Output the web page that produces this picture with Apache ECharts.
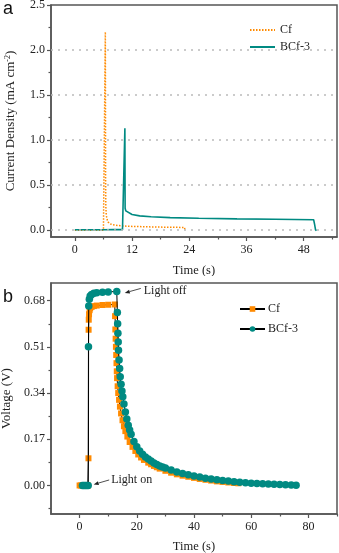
<!DOCTYPE html>
<html>
<head>
<meta charset="utf-8">
<script src="https://cdn.jsdelivr.net/npm/echarts@6/dist/echarts.min.js"></script>
<style>
html,body{margin:0;padding:0;background:#fff;}
#a{position:absolute;left:0;top:0;width:339px;height:276px;}
#b{position:absolute;left:0;top:276px;width:339px;height:277px;}
</style>
</head>
<body>
<div id="a"></div>
<div id="b"></div>
<script>
// ---------- Panel a: current density ----------
const cfTimeA = [0, 1, 2, 3, 4, 5, 6, 6.35, 6.4, 6.45, 6.5, 6.6, 6.8, 7.0, 7.5, 8, 9, 10, 12, 14, 16, 18, 20, 22, 23, 23.1, 23.15];
const cfCurrent = [-0.005, -0.005, -0.006, -0.005, -0.006, -0.005, -0.005, -0.003, 2.2, 0.6, 0.26, 0.16, 0.11, 0.085, 0.065, 0.056, 0.048, 0.043, 0.038, 0.035, 0.032, 0.030, 0.028, 0.027, 0.026, 0.0, -0.01];
const bcfTimeA = [0, 2, 4, 6, 8, 10, 10.4, 10.5, 10.55, 10.7, 11, 12, 13.6, 16, 20, 26, 34, 42, 50.1, 50.3, 50.5, 50.7];
const bcfCurrent = [0, 0, 0.001, 0.001, 0.002, 0.002, 0.002, 1.13, 0.24, 0.21, 0.19, 0.17, 0.155, 0.145, 0.135, 0.128, 0.122, 0.117, 0.112, 0.06, 0.0, -0.01];
const timeTicksA = [0, 12, 24, 36, 48];
const timeMinorA = [6, 18, 30, 42, 54];
const curTicks = [0, 0.5, 1.0, 1.5, 2.0, 2.5];
const curMinor = [0.25, 0.75, 1.25, 1.75, 2.25];
const curGrid = [0, 0.5, 1.0, 1.5, 2.0];

// ---------- Panel b: voltage ----------
const cfTimeB = [0, 0.5, 1, 1.5, 2, 2.5, 2.9, 3.1, 3.15, 3.2, 3.3, 3.5, 3.7, 4.2, 5, 6, 8, 10, 12.3,
  12.4, 12.5, 12.6, 12.7, 12.8, 12.9, 13.0, 13.1, 13.3, 13.5, 13.8, 14.1, 14.5, 15.0, 15.5, 16.0, 16.7, 17.5, 18.5, 19.5, 20.5, 21.5, 22.5, 24, 25, 26, 27, 28, 30, 32, 34, 36, 38, 40, 42, 44, 46, 48, 50, 52, 54, 55.5];
const cfVoltage = [0, 0, 0, 0, 0, 0, 0, 0.10, 0.573, 0.61, 0.63, 0.645, 0.652, 0.657, 0.66, 0.662, 0.664, 0.665, 0.666,
  0.623, 0.574, 0.54, 0.51, 0.48, 0.45, 0.42, 0.395, 0.365, 0.34, 0.315, 0.29, 0.265, 0.24, 0.218, 0.20, 0.18, 0.16, 0.142, 0.127, 0.114, 0.103, 0.094, 0.084, 0.078, 0.072, 0.067, 0.062, 0.054, 0.047, 0.041, 0.036, 0.032, 0.028, 0.024, 0.021, 0.018, 0.015, 0.013, 0.011, 0.009, 0.008];
const bcfTimeB = [1, 1.5, 2, 2.5, 3.0, 3.1, 3.2, 3.4, 3.7, 4.2, 5, 6, 8, 10, 13.0,
  13.2, 13.3, 13.4, 13.5, 13.6, 13.8, 14.0, 14.2, 14.5, 14.8, 15.1, 15.5, 16.0, 16.5, 17.0, 17.5, 18, 19, 20, 21, 22, 23, 24, 25, 26, 27, 28, 29, 30, 32, 34, 36, 38, 40, 42, 44, 46, 48, 50, 52, 54, 56, 58, 60, 62, 64, 66, 68, 70, 72, 74, 75.7];
const bcfVoltage = [0, 0, 0, 0, 0, 0.51, 0.66, 0.685, 0.697, 0.703, 0.707, 0.709, 0.711, 0.712, 0.714,
  0.636, 0.595, 0.560, 0.528, 0.498, 0.462, 0.430, 0.400, 0.372, 0.348, 0.326, 0.300, 0.270, 0.245, 0.222, 0.204, 0.188, 0.162, 0.142, 0.127, 0.115, 0.105, 0.097, 0.090, 0.083, 0.077, 0.072, 0.068, 0.064, 0.057, 0.050, 0.044, 0.039, 0.035, 0.031, 0.027, 0.024, 0.021, 0.018, 0.016, 0.014, 0.012, 0.010, 0.0085, 0.0072, 0.006, 0.0052, 0.0045, 0.004, 0.003, 0.002, 0.001];
const timeTicksB = [0, 20, 40, 60, 80];
const timeMinorB = [10, 30, 50, 70, 90];
const voltTicks = [0, 0.17, 0.34, 0.51, 0.68];
const voltMinor = [-0.085, 0.085, 0.255, 0.425, 0.595];
const lightOffAt = [13.0, 0.714];
const lightOnAt = [3.0, 0.0];

const ORANGE = '#ff8a00';
const TEAL = '#008a82';
const AX = '#555';
const SERIF = 'Liberation Serif';
const zip = (xs, ys) => xs.map((x, i) => [x, ys[i]]);

function majorX(min, max, ticks, gap) {
  return {
    type: 'value', min: min, max: max, position: 'bottom',
    axisLine: { show: true, onZero: false, lineStyle: { color: AX, width: 1.5 } },
    axisTick: { show: true, length: 4, customValues: ticks, lineStyle: { color: AX, width: 1.2 } },
    axisLabel: { customValues: ticks, margin: 7, fontFamily: SERIF, fontSize: 12, color: '#222' },
    splitLine: { show: false },
    name: 'Time (s)', nameLocation: 'middle', nameGap: gap,
    nameTextStyle: { fontFamily: SERIF, fontSize: 12.5, color: '#222' }
  };
}
function minorX(min, max, ticks) {
  return {
    type: 'value', min: min, max: max, position: 'bottom',
    axisLine: { show: false, onZero: false },
    axisTick: { show: true, length: 2.5, customValues: ticks, lineStyle: { color: AX, width: 1.2 } },
    axisLabel: { show: false }, splitLine: { show: false }
  };
}
function majorY(min, max, ticks, dec, name, gap) {
  return {
    type: 'value', min: min, max: max, position: 'left',
    axisLine: { show: true, onZero: false, lineStyle: { color: AX, width: 1.5 } },
    axisTick: { show: true, length: 4, customValues: ticks, lineStyle: { color: AX, width: 1.2 } },
    axisLabel: { customValues: ticks, margin: 6, fontFamily: SERIF, fontSize: 12, color: '#222',
      formatter: v => Number(v).toFixed(dec) },
    splitLine: { show: false },
    name: name, nameLocation: 'middle', nameGap: gap,
    nameTextStyle: { fontFamily: SERIF, fontSize: 13, color: '#222',
      rich: { t: { fontFamily: SERIF, fontSize: 13, color: '#222' },
              s: { fontFamily: SERIF, fontSize: 8, color: '#222', verticalAlign: 'top', padding: [0, 0, 6, 0] } } }
  };
}
function minorY(min, max, ticks) {
  return {
    type: 'value', min: min, max: max, position: 'left',
    axisLine: { show: false, onZero: false },
    axisTick: { show: true, length: 2.5, customValues: ticks, lineStyle: { color: AX, width: 1.2 } },
    axisLabel: { show: false }, splitLine: { show: false }
  };
}

// ----- chart a -----
const ca = echarts.init(document.getElementById('a'), null, { renderer: 'canvas' });
ca.setOption({
  animation: false,
  grid: { left: 51, top: 5, width: 286, height: 232, show: true, borderColor: AX, borderWidth: 1.5,
    backgroundColor: 'transparent', containLabel: false, outerBoundsMode: 'none' },
  graphic: [{ type: 'text', left: 3, top: 0, style: { text: 'a', fontFamily: 'Liberation Sans', fontSize: 18, fill: '#111' } }],
  legend: {
    orient: 'vertical', left: 249, top: 24, padding: 0, itemWidth: 25, itemHeight: 10, itemGap: 5,
    itemStyle: { opacity: 0 },
    textStyle: { fontFamily: SERIF, fontSize: 12, color: '#222' },
    data: ['Cf', 'BCf-3']
  },
  xAxis: [majorX(-5, 55, timeTicksA, 27), minorX(-5, 55, timeMinorA)],
  yAxis: [majorY(-0.08, 2.5, curTicks, 1, '{t|Current Density (mA cm}{s|-2}{t|)}', 33), minorY(-0.08, 2.5, curMinor)],
  series: [
    {
      name: 'Cf', type: 'line', data: zip(cfTimeA, cfCurrent), showSymbol: false, symbol: 'none',
      lineStyle: { color: ORANGE, width: 1.5, type: [1.5, 1.5] }, itemStyle: { color: ORANGE },
      markLine: {
        silent: true, symbol: 'none', label: { show: false },
        lineStyle: { color: '#bbb', width: 1.5, type: [2, 5] },
        data: curGrid.map(v => ({ yAxis: v }))
      },
      z: 3
    },
    {
      name: 'BCf-3', type: 'line', data: zip(bcfTimeA, bcfCurrent), showSymbol: false, symbol: 'none',
      lineStyle: { color: TEAL, width: 1.6 }, itemStyle: { color: TEAL }, z: 4
    }
  ]
});

// ----- chart b -----
const cb = echarts.init(document.getElementById('b'), null, { renderer: 'canvas' });
cb.setOption({
  animation: false,
  grid: { left: 51, top: 7, width: 286, height: 231, show: true, borderColor: AX, borderWidth: 1.5,
    backgroundColor: 'transparent', containLabel: false, outerBoundsMode: 'none' },
  legend: {
    orient: 'vertical', left: 239, top: 27, padding: 0, itemWidth: 25, itemHeight: 7, itemGap: 8,
    textStyle: { fontFamily: SERIF, fontSize: 12, color: '#222', padding: [0, 0, 0, -2] },
    data: ['Cf', 'BCf-3']
  },
  xAxis: [majorX(-10, 90, timeTicksB, 26), minorX(-10, 90, timeMinorB)],
  yAxis: [majorY(-0.105, 0.745, voltTicks, 2, 'Voltage (V)', 35), minorY(-0.105, 0.745, voltMinor)],
  series: [
    {
      name: 'Cf', type: 'line', data: zip(cfTimeB, cfVoltage), symbol: 'rect', symbolSize: 6, showSymbol: true,
      lineStyle: { color: '#000', width: 1 }, itemStyle: { color: ORANGE }, z: 3
    },
    {
      name: 'BCf-3', type: 'line', data: zip(bcfTimeB, bcfVoltage), symbol: 'circle', symbolSize: 7.5, showSymbol: true,
      lineStyle: { color: '#000', width: 1 }, itemStyle: { color: TEAL }, z: 4
    }
  ]
});

function arrow(tip, tail) {
  const dx = tail[0] - tip[0], dy = tail[1] - tip[1];
  const L = Math.hypot(dx, dy), ux = dx / L, uy = dy / L;
  const hl = 5, hw = 2;
  const bx = tip[0] + ux * hl, by = tip[1] + uy * hl;
  return [
    { type: 'line', shape: { x1: tail[0], y1: tail[1], x2: bx, y2: by }, style: { stroke: '#222', lineWidth: 0.8 }, z: 100 },
    { type: 'polygon', shape: { points: [tip, [bx - uy * hw, by + ux * hw], [bx + uy * hw, by - ux * hw]] }, style: { fill: '#222' }, z: 100 }
  ];
}
const off = cb.convertToPixel({ xAxisIndex: 0, yAxisIndex: 0 }, lightOffAt);
const on = cb.convertToPixel({ xAxisIndex: 0, yAxisIndex: 0 }, lightOnAt);
const g = [{ type: 'text', left: 3, top: 12, style: { text: 'b', fontFamily: 'Liberation Sans', fontSize: 18, fill: '#111' } }];
g.push(...arrow([off[0] + 8, off[1] + 1.5], [off[0] + 24, off[1] - 3]));
g.push({ type: 'text', x: off[0] + 27, y: off[1] - 1, style: { text: 'Light off', fontFamily: SERIF, fontSize: 12, fill: '#222', verticalAlign: 'middle' }, z: 100 });
g.push(...arrow([on[0] + 5.5, on[1] - 1], [on[0] + 21, on[1] - 5.5]));
g.push({ type: 'text', x: on[0] + 23, y: on[1] - 6, style: { text: 'Light on', fontFamily: SERIF, fontSize: 12, fill: '#222', verticalAlign: 'middle' }, z: 100 });
cb.setOption({ graphic: g });
</script>
</body>
</html>
